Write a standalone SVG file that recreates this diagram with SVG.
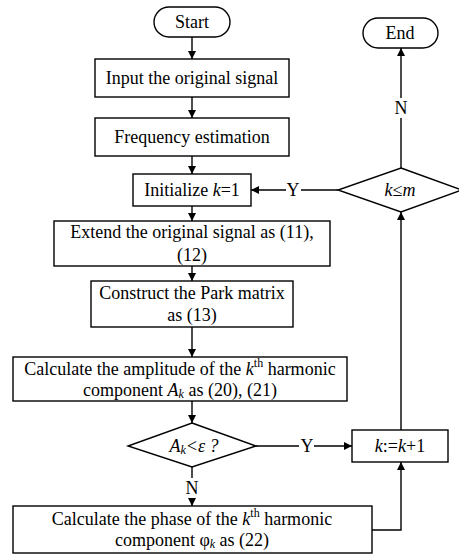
<svg xmlns="http://www.w3.org/2000/svg" width="459" height="558" viewBox="0 0 459 558">
<style>
.b{fill:#fff;stroke:#000;stroke-width:1.4}
.t{font-family:"Liberation Serif","Times New Roman",serif;font-size:18px;fill:#000;text-anchor:middle;dominant-baseline:central}
.i{font-style:italic}
.c{fill:none;stroke:#000;stroke-width:1.4}
.s{font-size:12px}
</style>
<defs>
<marker id="a" viewBox="0 0 10 10" refX="10" refY="5" markerWidth="8" markerHeight="8" markerUnits="userSpaceOnUse" orient="auto">
<path d="M0,0L10,5L0,10z" fill="#000"/>
</marker>
</defs>
<g id="connectors">
<line class="c" x1="192" y1="37" x2="192" y2="59" marker-end="url(#a)"/>
<line class="c" x1="192" y1="97" x2="192" y2="118" marker-end="url(#a)"/>
<line class="c" x1="192" y1="156" x2="192" y2="174" marker-end="url(#a)"/>
<line class="c" x1="192" y1="206" x2="192" y2="221" marker-end="url(#a)"/>
<line class="c" x1="192" y1="266" x2="192" y2="281" marker-end="url(#a)"/>
<line class="c" x1="192" y1="327" x2="192" y2="357" marker-end="url(#a)"/>
<line class="c" x1="192" y1="401" x2="192" y2="423" marker-end="url(#a)"/>
<line class="c" x1="192" y1="467" x2="192" y2="506" marker-end="url(#a)"/>
<line class="c" x1="256" y1="446" x2="352" y2="446" marker-end="url(#a)"/>
<polyline class="c" points="372,530 401,530 401,462" marker-end="url(#a)"/>
<line class="c" x1="401" y1="430" x2="401" y2="212" marker-end="url(#a)"/>
<line class="c" x1="338" y1="190" x2="251" y2="190" marker-end="url(#a)"/>
<line class="c" x1="401" y1="168" x2="401" y2="48" marker-end="url(#a)"/>
<rect x="185" y="478" width="14" height="20" fill="#fff"/>
<text class="t" x="192" y="488">N</text>
<rect x="299" y="436" width="15" height="20" fill="#fff"/>
<text class="t" x="307" y="446">Y</text>
<rect x="286" y="180" width="15" height="20" fill="#fff"/>
<text class="t" x="293" y="190">Y</text>
<rect x="394" y="98" width="14" height="20" fill="#fff"/>
<text class="t" x="401" y="108">N</text>
</g>
<g id="start">
<rect class="b" x="154" y="7" width="76" height="30" rx="15"/>
<text class="t" x="192" y="22">Start</text>
</g>
<g id="input">
<rect class="b" x="95" y="59" width="194" height="38"/>
<text class="t" x="192" y="78">Input the original signal</text>
</g>
<g id="freq">
<rect class="b" x="95" y="118" width="194" height="38"/>
<text class="t" x="192" y="137">Frequency estimation</text>
</g>
<g id="init">
<rect class="b" x="133" y="174" width="118" height="32"/>
<text class="t" x="192" y="190">Initialize <tspan class="i">k</tspan>=1</text>
</g>
<g id="extend">
<rect class="b" x="54" y="221" width="276" height="45"/>
<text class="t" x="192" y="232">Extend the original signal as (11),</text>
<text class="t" x="192" y="255">(12)</text>
</g>
<g id="park">
<rect class="b" x="91" y="281" width="202" height="46"/>
<text class="t" x="192" y="293">Construct the Park matrix</text>
<text class="t" x="192" y="315">as (13)</text>
</g>
<g id="amp">
<rect class="b" x="13" y="357" width="334" height="44"/>
<text class="t" x="180" y="369">Calculate the amplitude of the <tspan class="i">k</tspan><tspan class="s" dy="-6">th</tspan><tspan dy="6"> harmonic</tspan></text>
<text class="t" x="180" y="390">component <tspan class="i">A</tspan><tspan class="i s" dy="4">k</tspan><tspan dy="-4"> as (20), (21)</tspan></text>
</g>
<g id="cond">
<polygon class="b" points="192,423 256,446 192,467 128,446"/>
<text class="t i" x="194" y="446">A<tspan class="s" dy="4">k</tspan><tspan dy="-4">&lt;ε ?</tspan></text>
</g>
<g id="inc">
<rect class="b" x="352" y="430" width="96" height="32"/>
<text class="t" x="400" y="446"><tspan class="i">k</tspan>:=<tspan class="i">k</tspan>+1</text>
</g>
<g id="phase">
<rect class="b" x="13" y="506" width="359" height="47"/>
<text class="t" x="192" y="519">Calculate the phase of the <tspan class="i">k</tspan><tspan class="s" dy="-6">th</tspan><tspan dy="6"> harmonic</tspan></text>
<text class="t" x="192" y="540">component φ<tspan class="i s" dy="4">k</tspan><tspan dy="-4"> as (22)</tspan></text>
</g>
<g id="loop">
<polygon class="b" points="401,168 462,190 401,212 338,190"/>
<text class="t i" x="400" y="190">k≤m</text>
</g>
<g id="end">
<rect class="b" x="363" y="18" width="75" height="30" rx="15"/>
<text class="t" x="400" y="33">End</text>
</g>
</svg>
